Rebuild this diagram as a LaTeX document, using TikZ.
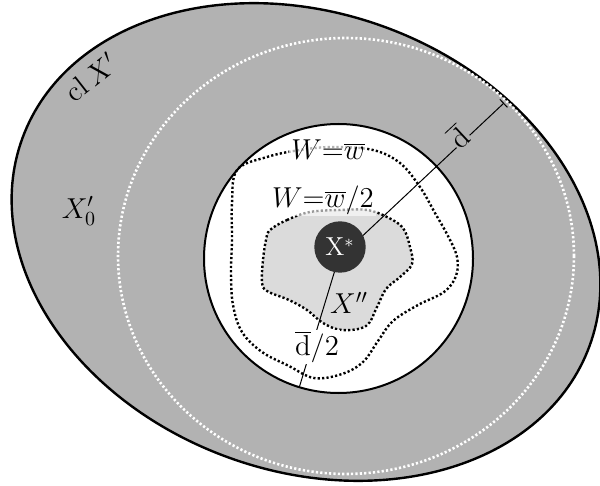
\documentclass[tikz,border=0pt]{standalone}
\usetikzlibrary{arrows.meta}
\definecolor{ringgray}{gray}{0.70}
\definecolor{blobgray}{gray}{0.86}
\definecolor{diskgray}{gray}{0.20}
\begin{document}
\begin{tikzpicture}[x=0.5pt,y=-0.5pt,
  ringshape/.style={fill=ringgray, draw=black, line width=1.2pt},
  wdots/.style={draw=white, line width=1.3pt, dash pattern=on 1.1pt off 1.1pt},
  bdots/.style={draw=black, line width=1.2pt, dash pattern=on 1.1pt off 1.1pt},
  lbl/.style={font=\fontsize{14.5}{17}\selectfont, inner sep=1pt},
  radline/.style={line width=0.5pt}]
\useasboundingbox (0,0) rectangle (600,486);
\fill[white] (0,0) rectangle (600,486);
% outer region cl X'
\draw[ringshape, rotate around={-20.1:(306,242)}] (306,242) ellipse [x radius=302, y radius=229];
% white dotted X'_0
\draw[wdots] (346,256) ellipse [x radius=228, y radius=218];
% inner white disc
\draw[fill=white, line width=1pt] (338.5,258.5) circle [radius=134.5];
% W = w level curve
\draw[bdots] plot[smooth cycle, tension=0.6] coordinates {
  (237,170) (267,157) (300,150) (333,147) (373,150) (400,163) (420,187)
  (435,213) (448,236) (457,257) (456,276) (444,292) (418,305) (393,321)
  (378,341) (363,362) (342,374) (314,378) (289,366) (262,352) (242,332)
  (233,305) (231,273) (232,240) (232,203)};
% X'' blob
\draw[bdots, fill=blobgray] plot[smooth cycle, tension=0.6] coordinates {
  (270,230) (287,220) (310,212) (340,210) (367,210) (387,217) (403,228)
  (410,247) (412,264) (400,277) (386,289) (377,307) (366,326) (342,330)
  (323,323) (307,310) (289,300) (267,291) (262,282) (263,260) (266,240)};
% radii
\coordinate (c0) at (338.5,258.5);
\coordinate (dend) at (504,103);
\coordinate (hend) at (299.3,387.2);
\draw[radline, -{Bar[width=5.5pt, line width=0.5pt]}] (c0) -- (dend);
\draw[radline] (c0) -- (hend);
% X* disc
\node[circle, fill=diskgray, minimum size=25.7pt, inner sep=0pt, text=white,
      font=\fontsize{13}{15}\selectfont] (xs) at (340,247) {X$^*$};
% labels
\node[lbl, rotate=38] (clx) at (91,77) {cl\,$X'$};
\node[lbl] (x0) at (79,211) {$X'_0$};
\node[lbl, fill=white, fill opacity=0.7, text opacity=1] (w1) at (328,150) {$W{=}\overline{w}$};
\node[lbl, fill=white, fill opacity=0.6, text opacity=1] (w2) at (323,200) {$W{=}\overline{w}/2$};
\node[lbl] (xpp) at (349,303) {$X''$};
\node[lbl, fill=white, inner sep=0.5pt] (dh) at (317,347) {$\overline{\mathrm{d}}/2$};
\node[lbl, fill=ringgray, rotate=43, inner sep=0.5pt] (dl) at (458,136) {$\overline{\mathrm{d}}$};
\end{tikzpicture}
\end{document}
